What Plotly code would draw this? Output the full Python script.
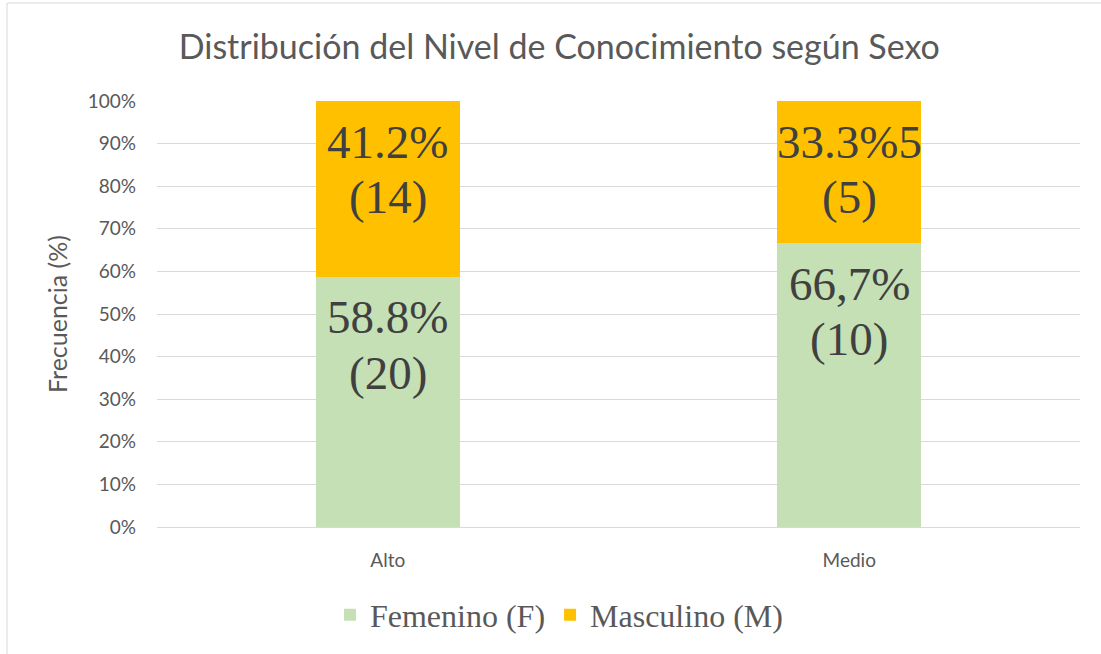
import plotly.graph_objects as go

categories = ["Alto", "Medio"]
femenino_pct = [58.8, 66.7]
masculino_pct = [41.2, 33.3]
femenino_pct_text = ["58.8%", "66,7%"]
femenino_n_text = ["(20)", "(10)"]
masculino_pct_text = ["41.2%", "33.3%5"]
masculino_n_text = ["(14)", "(5)"]

GREEN = "#C5E0B4"
ORANGE = "#FFC000"
TXT = "#595959"
LBL = "#404040"
GRID = "#D9D9D9"

fig = go.Figure()
fig.add_trace(go.Bar(name="Femenino (F)", x=categories, y=femenino_pct, showlegend=False,
                     marker=dict(color=GREEN, line=dict(width=0)), width=0.312))
fig.add_trace(go.Bar(name="Masculino (M)", x=categories, y=masculino_pct, showlegend=False,
                     marker=dict(color=ORANGE, line=dict(width=0)), width=0.312))
# legend entries with larger square swatches
for nm, col in (("Femenino (F)", GREEN), ("Masculino (M)", ORANGE)):
    fig.add_trace(go.Scatter(name=nm, x=[None], y=[None], mode="markers",
                             marker=dict(symbol="square", size=16, color=col)))

# data labels: anchored just below the top of each segment (as in the source)
annotations = []
lab_font = dict(family="Liberation Serif", size=47, color=LBL)
for i, c in enumerate(categories):
    top_f = femenino_pct[i]
    top_m = femenino_pct[i] + masculino_pct[i]
    for top, l1, l2 in ((top_f, femenino_pct_text[i], femenino_n_text[i]),
                        (top_m, masculino_pct_text[i], masculino_n_text[i])):
        annotations.append(dict(x=c, y=top - 9.6, xref="x", yref="y", text=l1, showarrow=False,
                                font=lab_font, yanchor="middle"))
        annotations.append(dict(x=c, y=top - 22.6, xref="x", yref="y", text=l2, showarrow=False,
                                font=lab_font, yanchor="middle"))

fig.update_layout(
    barmode="stack",
    width=1101, height=654,
    paper_bgcolor="white", plot_bgcolor="white",
    margin=dict(l=157, r=21, t=101, b=127),
    title=dict(text="Distribución del Nivel de Conocimiento según Sexo",
               x=0.508, xanchor="center", y=0.928, yanchor="middle",
               font=dict(family="Lato", size=34, color=TXT)),
    xaxis=dict(showgrid=False, showline=True, linecolor=GRID, linewidth=1,
               ticks="", tickfont=dict(family="Lato", size=19, color=TXT), ticklabelstandoff=16),
    yaxis=dict(range=[0, 100], tickvals=list(range(0, 101, 10)),
               ticktext=[f"{v}%" for v in range(0, 101, 10)],
               showgrid=True, gridcolor=GRID, gridwidth=1, zeroline=False,
               tickfont=dict(family="Lato", size=19, color=TXT), ticks="",
               ticklabelstandoff=20,
               title=dict(text="Frecuencia (%)", font=dict(family="Lato", size=25, color=TXT), standoff=12)),
    legend=dict(orientation="h", x=0.4355, xanchor="center", y=-0.2066, yanchor="middle",
                font=dict(family="Liberation Serif", size=32, color=TXT),
                itemsizing="constant", traceorder="normal"),
    annotations=annotations,
    shapes=[dict(type="rect", xref="paper", yref="paper", x0=-0.1625, x1=1.1, y0=-0.4, y1=1.230,
                 line=dict(color=GRID, width=1), fillcolor="rgba(0,0,0,0)", layer="below")],
)

fig.write_html("out.html", config={"displayModeBar": False},
               post_script="document.body.style.margin='0';")
